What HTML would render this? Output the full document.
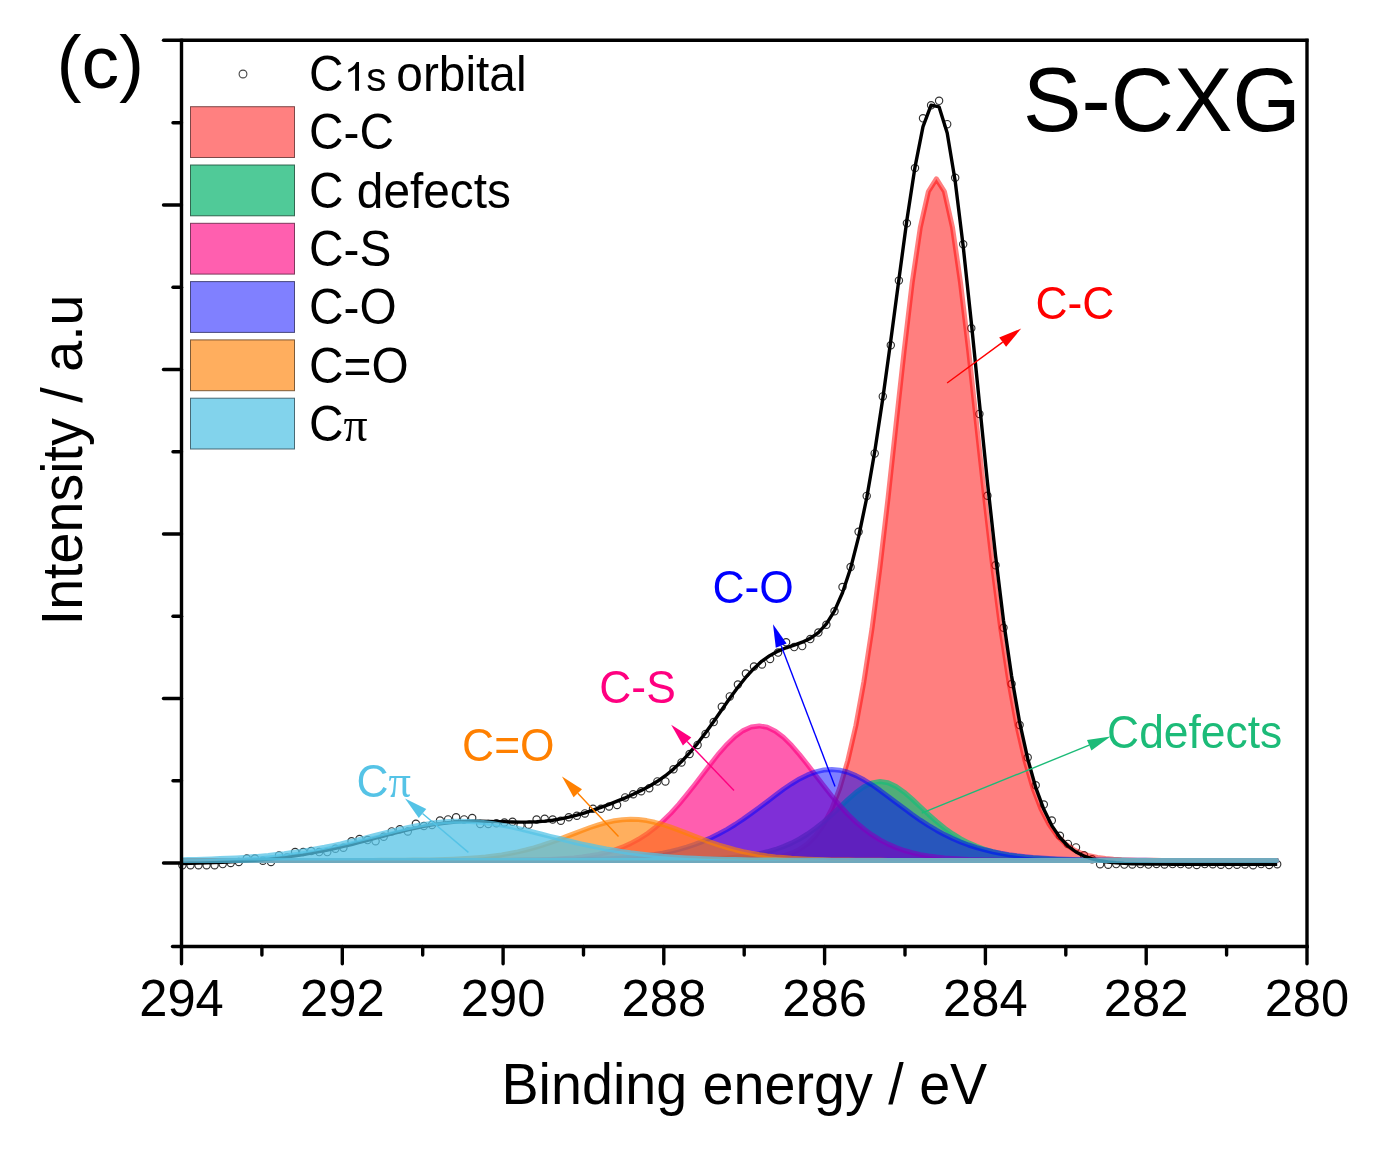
<!DOCTYPE html><html><head><meta charset="utf-8"><style>html,body{margin:0;padding:0;background:#fff;overflow:hidden}svg{display:block;will-change:transform}</style></head><body>
<svg width="1377" height="1152" viewBox="0 0 1377 1152">
<rect width="1377" height="1152" fill="#fff"/>
<g fill="none" stroke="rgb(50,50,50)" stroke-width="1.15"><circle cx="182.4" cy="865.2" r="3.65"/><circle cx="190.5" cy="865.2" r="3.65"/><circle cx="198.5" cy="865.2" r="3.65"/><circle cx="206.6" cy="865.2" r="3.65"/><circle cx="214.6" cy="865.2" r="3.65"/><circle cx="222.7" cy="864.1" r="3.65"/><circle cx="230.7" cy="863.0" r="3.65"/><circle cx="238.8" cy="861.9" r="3.65"/><circle cx="246.8" cy="858.6" r="3.65"/><circle cx="254.9" cy="858.6" r="3.65"/><circle cx="262.9" cy="860.8" r="3.65"/><circle cx="271.0" cy="861.9" r="3.65"/><circle cx="279.0" cy="855.4" r="3.65"/><circle cx="287.1" cy="857.4" r="3.65"/><circle cx="295.1" cy="852.1" r="3.65"/><circle cx="303.2" cy="852.1" r="3.65"/><circle cx="311.2" cy="851.0" r="3.65"/><circle cx="319.2" cy="852.1" r="3.65"/><circle cx="327.3" cy="852.1" r="3.65"/><circle cx="335.4" cy="848.8" r="3.65"/><circle cx="343.4" cy="847.7" r="3.65"/><circle cx="351.5" cy="841.2" r="3.65"/><circle cx="359.5" cy="839.0" r="3.65"/><circle cx="367.6" cy="840.1" r="3.65"/><circle cx="375.6" cy="841.2" r="3.65"/><circle cx="383.7" cy="836.8" r="3.65"/><circle cx="391.7" cy="831.4" r="3.65"/><circle cx="399.8" cy="829.2" r="3.65"/><circle cx="407.8" cy="831.4" r="3.65"/><circle cx="415.9" cy="823.8" r="3.65"/><circle cx="423.9" cy="826.0" r="3.65"/><circle cx="432.0" cy="824.9" r="3.65"/><circle cx="440.0" cy="820.5" r="3.65"/><circle cx="448.1" cy="819.4" r="3.65"/><circle cx="456.1" cy="817.2" r="3.65"/><circle cx="464.1" cy="819.4" r="3.65"/><circle cx="472.2" cy="818.0" r="3.65"/><circle cx="480.2" cy="824.0" r="3.65"/><circle cx="488.3" cy="824.0" r="3.65"/><circle cx="496.4" cy="823.3" r="3.65"/><circle cx="504.4" cy="822.5" r="3.65"/><circle cx="512.5" cy="821.8" r="3.65"/><circle cx="520.5" cy="825.6" r="3.65"/><circle cx="528.6" cy="824.8" r="3.65"/><circle cx="536.6" cy="819.5" r="3.65"/><circle cx="544.7" cy="818.7" r="3.65"/><circle cx="552.7" cy="819.5" r="3.65"/><circle cx="560.8" cy="820.7" r="3.65"/><circle cx="568.8" cy="817.2" r="3.65"/><circle cx="576.9" cy="815.7" r="3.65"/><circle cx="584.9" cy="813.4" r="3.65"/><circle cx="593.0" cy="808.8" r="3.65"/><circle cx="601.0" cy="808.8" r="3.65"/><circle cx="609.1" cy="806.5" r="3.65"/><circle cx="617.1" cy="805.0" r="3.65"/><circle cx="625.2" cy="797.4" r="3.65"/><circle cx="633.2" cy="794.3" r="3.65"/><circle cx="641.2" cy="791.3" r="3.65"/><circle cx="649.3" cy="788.2" r="3.65"/><circle cx="657.4" cy="781.4" r="3.65"/><circle cx="665.4" cy="781.4" r="3.65"/><circle cx="673.5" cy="769.3" r="3.65"/><circle cx="681.5" cy="762.4" r="3.65"/><circle cx="689.6" cy="754.0" r="3.65"/><circle cx="697.6" cy="745.0" r="3.65"/><circle cx="705.6" cy="733.9" r="3.65"/><circle cx="713.7" cy="722.1" r="3.65"/><circle cx="721.8" cy="706.8" r="3.65"/><circle cx="729.8" cy="696.4" r="3.65"/><circle cx="737.9" cy="684.6" r="3.65"/><circle cx="745.9" cy="673.5" r="3.65"/><circle cx="754.0" cy="666.5" r="3.65"/><circle cx="762.0" cy="664.4" r="3.65"/><circle cx="770.1" cy="658.9" r="3.65"/><circle cx="778.1" cy="652.6" r="3.65"/><circle cx="786.1" cy="642.2" r="3.65"/><circle cx="794.2" cy="647.1" r="3.65"/><circle cx="802.2" cy="646.1" r="3.65"/><circle cx="810.3" cy="639.1" r="3.65"/><circle cx="818.4" cy="632.6" r="3.65"/><circle cx="826.4" cy="624.8" r="3.65"/><circle cx="834.5" cy="611.3" r="3.65"/><circle cx="842.5" cy="587.0" r="3.65"/><circle cx="850.6" cy="567.0" r="3.65"/><circle cx="858.6" cy="531.8" r="3.65"/><circle cx="866.7" cy="495.9" r="3.65"/><circle cx="874.7" cy="453.4" r="3.65"/><circle cx="882.8" cy="396.4" r="3.65"/><circle cx="890.8" cy="345.2" r="3.65"/><circle cx="898.9" cy="280.6" r="3.65"/><circle cx="906.9" cy="223.3" r="3.65"/><circle cx="915.0" cy="168.1" r="3.65"/><circle cx="923.0" cy="118.3" r="3.65"/><circle cx="931.1" cy="105.3" r="3.65"/><circle cx="939.1" cy="100.8" r="3.65"/><circle cx="947.2" cy="124.2" r="3.65"/><circle cx="955.2" cy="177.8" r="3.65"/><circle cx="963.2" cy="244.3" r="3.65"/><circle cx="971.3" cy="328.3" r="3.65"/><circle cx="979.4" cy="413.9" r="3.65"/><circle cx="987.4" cy="495.8" r="3.65"/><circle cx="995.5" cy="565.3" r="3.65"/><circle cx="1003.5" cy="627.7" r="3.65"/><circle cx="1011.6" cy="684.0" r="3.65"/><circle cx="1019.6" cy="725.0" r="3.65"/><circle cx="1027.7" cy="757.6" r="3.65"/><circle cx="1035.7" cy="785.3" r="3.65"/><circle cx="1043.8" cy="804.5" r="3.65"/><circle cx="1051.8" cy="820.5" r="3.65"/><circle cx="1059.9" cy="835.7" r="3.65"/><circle cx="1067.9" cy="843.9" r="3.65"/><circle cx="1076.0" cy="847.4" r="3.65"/><circle cx="1084.0" cy="855.2" r="3.65"/><circle cx="1092.1" cy="859.2" r="3.65"/><circle cx="1100.1" cy="864.2" r="3.65"/><circle cx="1108.2" cy="864.8" r="3.65"/><circle cx="1116.2" cy="864.1" r="3.65"/><circle cx="1124.3" cy="864.6" r="3.65"/><circle cx="1132.3" cy="864.4" r="3.65"/><circle cx="1140.4" cy="864.1" r="3.65"/><circle cx="1148.4" cy="864.6" r="3.65"/><circle cx="1156.5" cy="864.0" r="3.65"/><circle cx="1164.5" cy="864.5" r="3.65"/><circle cx="1172.6" cy="864.1" r="3.65"/><circle cx="1180.6" cy="864.1" r="3.65"/><circle cx="1188.7" cy="864.5" r="3.65"/><circle cx="1196.7" cy="865.0" r="3.65"/><circle cx="1204.8" cy="864.1" r="3.65"/><circle cx="1212.8" cy="864.3" r="3.65"/><circle cx="1220.9" cy="864.8" r="3.65"/><circle cx="1228.9" cy="865.1" r="3.65"/><circle cx="1237.0" cy="864.7" r="3.65"/><circle cx="1245.0" cy="864.5" r="3.65"/><circle cx="1253.1" cy="865.2" r="3.65"/><circle cx="1261.1" cy="864.1" r="3.65"/><circle cx="1269.2" cy="865.0" r="3.65"/><circle cx="1277.2" cy="864.3" r="3.65"/></g>
<path d="M183.0,860.4 L183.0,860.4 L187.7,860.4 L195.8,860.4 L203.8,860.4 L211.9,860.4 L219.9,860.4 L228.0,860.4 L236.0,860.4 L244.1,860.4 L252.1,860.4 L260.2,860.4 L268.2,860.4 L276.3,860.4 L284.3,860.4 L292.4,860.4 L300.4,860.4 L308.5,860.4 L316.5,860.4 L324.6,860.4 L332.6,860.4 L340.7,860.4 L348.7,860.4 L356.8,860.4 L364.8,860.4 L372.9,860.4 L380.9,860.4 L389.0,860.4 L397.0,860.4 L405.1,860.4 L413.1,860.4 L421.2,860.4 L429.2,860.4 L437.3,860.4 L445.3,860.4 L453.4,860.4 L461.4,860.4 L469.5,860.4 L477.5,860.4 L485.6,860.4 L493.6,860.4 L501.7,860.4 L509.7,860.4 L517.8,860.4 L525.8,860.4 L533.9,860.4 L541.9,860.4 L550.0,860.4 L558.0,860.4 L566.1,860.4 L574.1,860.4 L582.2,860.4 L590.2,860.4 L598.3,860.4 L606.3,860.4 L614.4,860.4 L622.4,860.4 L630.5,860.4 L638.5,860.4 L646.6,860.4 L654.6,860.4 L662.7,860.4 L670.8,860.4 L678.8,860.4 L686.8,860.4 L694.9,860.4 L702.9,860.4 L711.0,860.4 L719.0,860.3 L727.1,860.3 L735.1,860.2 L743.2,860.0 L751.2,859.8 L759.3,859.3 L767.3,858.6 L775.4,857.5 L783.4,855.8 L791.5,853.2 L799.5,849.4 L807.6,843.8 L815.6,835.7 L823.7,824.4 L831.8,808.9 L839.8,788.0 L847.8,760.6 L855.9,725.5 L863.9,681.7 L872.0,628.7 L880.0,566.9 L888.1,497.6 L896.1,423.9 L904.2,350.2 L912.2,282.6 L920.3,227.5 L928.4,191.5 L936.4,178.9 L944.4,191.5 L952.5,227.5 L960.5,282.6 L968.6,350.2 L976.6,423.9 L984.7,497.6 L992.8,566.9 L1000.8,628.7 L1008.9,681.7 L1016.9,725.5 L1025.0,760.6 L1033.0,788.0 L1041.0,808.9 L1049.1,824.4 L1057.2,835.7 L1065.2,843.8 L1073.2,849.4 L1081.3,853.2 L1089.3,855.8 L1097.4,857.5 L1105.5,858.6 L1113.5,859.3 L1121.5,859.8 L1129.6,860.0 L1137.7,860.2 L1145.7,860.3 L1153.8,860.3 L1161.8,860.4 L1169.8,860.4 L1177.9,860.4 L1186.0,860.4 L1194.0,860.4 L1202.0,860.4 L1210.1,860.4 L1218.2,860.4 L1226.2,860.4 L1234.2,860.4 L1242.3,860.4 L1250.3,860.4 L1258.4,860.4 L1266.5,860.4 L1276.5,860.4 L1276.5,860.4 Z" fill="rgb(255,0,0)" fill-opacity="0.5" stroke="rgb(255,0,0)" stroke-opacity="0.5" stroke-width="5" stroke-linejoin="round"/>
<path d="M183.0,860.4 L183.0,860.4 L187.7,860.4 L195.8,860.4 L203.8,860.4 L211.9,860.4 L219.9,860.4 L228.0,860.4 L236.0,860.4 L244.1,860.4 L252.1,860.4 L260.2,860.4 L268.2,860.4 L276.3,860.4 L284.3,860.4 L292.4,860.4 L300.4,860.4 L308.5,860.4 L316.5,860.4 L324.6,860.4 L332.6,860.4 L340.7,860.4 L348.7,860.4 L356.8,860.4 L364.8,860.4 L372.9,860.4 L380.9,860.4 L389.0,860.4 L397.0,860.4 L405.1,860.4 L413.1,860.4 L421.2,860.4 L429.2,860.4 L437.3,860.4 L445.3,860.4 L453.4,860.4 L461.4,860.4 L469.5,860.4 L477.5,860.4 L485.6,860.4 L493.6,860.4 L501.7,860.4 L509.7,860.4 L517.8,860.4 L525.8,860.4 L533.9,860.4 L541.9,860.4 L550.0,860.4 L558.0,860.4 L566.1,860.4 L574.1,860.4 L582.2,860.4 L590.2,860.4 L598.3,860.4 L606.3,860.4 L614.4,860.4 L622.4,860.4 L630.5,860.4 L638.5,860.3 L646.6,860.3 L654.6,860.3 L662.7,860.2 L670.8,860.1 L678.8,860.0 L686.8,859.9 L694.9,859.7 L702.9,859.4 L711.0,859.1 L719.0,858.6 L727.1,858.1 L735.1,857.3 L743.2,856.4 L751.2,855.2 L759.3,853.7 L767.3,851.8 L775.4,849.5 L783.4,846.6 L791.5,843.1 L799.5,839.0 L807.6,834.0 L815.6,828.3 L823.7,821.9 L831.8,814.7 L839.8,807.2 L847.8,799.6 L855.9,792.6 L863.9,786.8 L872.0,782.9 L880.0,781.5 L888.1,782.7 L896.1,786.5 L904.2,792.2 L912.2,799.1 L920.3,806.7 L928.4,814.3 L936.4,821.4 L944.4,828.0 L952.5,833.7 L960.5,838.7 L968.6,842.9 L976.6,846.4 L984.7,849.3 L992.8,851.7 L1000.8,853.6 L1008.9,855.1 L1016.9,856.3 L1025.0,857.3 L1033.0,858.0 L1041.0,858.6 L1049.1,859.1 L1057.2,859.4 L1065.2,859.7 L1073.2,859.9 L1081.3,860.0 L1089.3,860.1 L1097.4,860.2 L1105.5,860.3 L1113.5,860.3 L1121.5,860.3 L1129.6,860.4 L1137.7,860.4 L1145.7,860.4 L1153.8,860.4 L1161.8,860.4 L1169.8,860.4 L1177.9,860.4 L1186.0,860.4 L1194.0,860.4 L1202.0,860.4 L1210.1,860.4 L1218.2,860.4 L1226.2,860.4 L1234.2,860.4 L1242.3,860.4 L1250.3,860.4 L1258.4,860.4 L1266.5,860.4 L1276.5,860.4 L1276.5,860.4 Z" fill="rgb(28,187,120)" fill-opacity="0.77" stroke="rgb(28,187,120)" stroke-opacity="0.77" stroke-width="5" stroke-linejoin="round"/>
<path d="M183.0,860.4 L183.0,860.4 L187.7,860.4 L195.8,860.4 L203.8,860.4 L211.9,860.4 L219.9,860.4 L228.0,860.4 L236.0,860.4 L244.1,860.4 L252.1,860.4 L260.2,860.4 L268.2,860.4 L276.3,860.4 L284.3,860.4 L292.4,860.4 L300.4,860.4 L308.5,860.4 L316.5,860.4 L324.6,860.4 L332.6,860.4 L340.7,860.4 L348.7,860.4 L356.8,860.4 L364.8,860.4 L372.9,860.4 L380.9,860.4 L389.0,860.4 L397.0,860.4 L405.1,860.4 L413.1,860.4 L421.2,860.4 L429.2,860.4 L437.3,860.4 L445.3,860.4 L453.4,860.4 L461.4,860.4 L469.5,860.4 L477.5,860.4 L485.6,860.4 L493.6,860.3 L501.7,860.3 L509.7,860.2 L517.8,860.2 L525.8,860.1 L533.9,859.9 L541.9,859.7 L550.0,859.4 L558.0,859.0 L566.1,858.5 L574.1,857.9 L582.2,857.0 L590.2,855.8 L598.3,854.4 L606.3,852.5 L614.4,850.1 L622.4,847.2 L630.5,843.6 L638.5,839.3 L646.6,834.2 L654.6,828.1 L662.7,821.1 L670.8,813.2 L678.8,804.4 L686.8,794.7 L694.9,784.5 L702.9,774.0 L711.0,763.4 L719.0,753.3 L727.1,744.2 L735.1,736.5 L743.2,730.6 L751.2,727.0 L759.3,725.9 L767.3,727.3 L775.4,731.2 L783.4,737.3 L791.5,745.3 L799.5,754.6 L807.6,764.7 L815.6,775.3 L823.7,785.8 L831.8,796.0 L839.8,805.5 L847.8,814.2 L855.9,822.1 L863.9,828.9 L872.0,834.9 L880.0,839.9 L888.1,844.1 L896.1,847.6 L904.2,850.5 L912.2,852.7 L920.3,854.6 L928.4,856.0 L936.4,857.1 L944.4,858.0 L952.5,858.6 L960.5,859.1 L968.6,859.5 L976.6,859.7 L984.7,859.9 L992.8,860.1 L1000.8,860.2 L1008.9,860.2 L1016.9,860.3 L1025.0,860.3 L1033.0,860.4 L1041.0,860.4 L1049.1,860.4 L1057.2,860.4 L1065.2,860.4 L1073.2,860.4 L1081.3,860.4 L1089.3,860.4 L1097.4,860.4 L1105.5,860.4 L1113.5,860.4 L1121.5,860.4 L1129.6,860.4 L1137.7,860.4 L1145.7,860.4 L1153.8,860.4 L1161.8,860.4 L1169.8,860.4 L1177.9,860.4 L1186.0,860.4 L1194.0,860.4 L1202.0,860.4 L1210.1,860.4 L1218.2,860.4 L1226.2,860.4 L1234.2,860.4 L1242.3,860.4 L1250.3,860.4 L1258.4,860.4 L1266.5,860.4 L1276.5,860.4 L1276.5,860.4 Z" fill="rgb(255,0,128)" fill-opacity="0.63" stroke="rgb(255,0,128)" stroke-opacity="0.63" stroke-width="5" stroke-linejoin="round"/>
<path d="M183.0,860.4 L183.0,860.4 L187.7,860.4 L195.8,860.4 L203.8,860.4 L211.9,860.4 L219.9,860.4 L228.0,860.4 L236.0,860.4 L244.1,860.4 L252.1,860.4 L260.2,860.4 L268.2,860.4 L276.3,860.4 L284.3,860.4 L292.4,860.4 L300.4,860.4 L308.5,860.4 L316.5,860.4 L324.6,860.4 L332.6,860.4 L340.7,860.4 L348.7,860.4 L356.8,860.4 L364.8,860.4 L372.9,860.4 L380.9,860.4 L389.0,860.4 L397.0,860.4 L405.1,860.4 L413.1,860.4 L421.2,860.4 L429.2,860.4 L437.3,860.4 L445.3,860.4 L453.4,860.4 L461.4,860.4 L469.5,860.4 L477.5,860.4 L485.6,860.4 L493.6,860.4 L501.7,860.4 L509.7,860.4 L517.8,860.3 L525.8,860.3 L533.9,860.3 L541.9,860.2 L550.0,860.2 L558.0,860.1 L566.1,860.0 L574.1,859.9 L582.2,859.7 L590.2,859.5 L598.3,859.3 L606.3,858.9 L614.4,858.5 L622.4,858.0 L630.5,857.4 L638.5,856.6 L646.6,855.6 L654.6,854.5 L662.7,853.1 L670.8,851.4 L678.8,849.4 L686.8,847.1 L694.9,844.4 L702.9,841.3 L711.0,837.8 L719.0,833.8 L727.1,829.4 L735.1,824.5 L743.2,819.1 L751.2,813.4 L759.3,807.5 L767.3,801.4 L775.4,795.3 L783.4,789.3 L791.5,783.8 L799.5,778.9 L807.6,774.9 L815.6,771.9 L823.7,770.0 L831.8,769.5 L839.8,770.3 L847.8,772.3 L855.9,775.6 L863.9,779.8 L872.0,784.8 L880.0,790.4 L888.1,796.4 L896.1,802.5 L904.2,808.6 L912.2,814.5 L920.3,820.2 L928.4,825.4 L936.4,830.2 L944.4,834.6 L952.5,838.5 L960.5,842.0 L968.6,845.0 L976.6,847.6 L984.7,849.8 L992.8,851.7 L1000.8,853.3 L1008.9,854.7 L1016.9,855.8 L1025.0,856.7 L1033.0,857.5 L1041.0,858.1 L1049.1,858.6 L1057.2,859.0 L1065.2,859.3 L1073.2,859.6 L1081.3,859.8 L1089.3,859.9 L1097.4,860.0 L1105.5,860.1 L1113.5,860.2 L1121.5,860.2 L1129.6,860.3 L1137.7,860.3 L1145.7,860.3 L1153.8,860.4 L1161.8,860.4 L1169.8,860.4 L1177.9,860.4 L1186.0,860.4 L1194.0,860.4 L1202.0,860.4 L1210.1,860.4 L1218.2,860.4 L1226.2,860.4 L1234.2,860.4 L1242.3,860.4 L1250.3,860.4 L1258.4,860.4 L1266.5,860.4 L1276.5,860.4 L1276.5,860.4 Z" fill="rgb(0,0,255)" fill-opacity="0.5" stroke="rgb(0,0,255)" stroke-opacity="0.5" stroke-width="5" stroke-linejoin="round"/>
<path d="M183.0,860.4 L183.0,860.4 L187.7,860.4 L195.8,860.4 L203.8,860.4 L211.9,860.4 L219.9,860.4 L228.0,860.4 L236.0,860.4 L244.1,860.4 L252.1,860.4 L260.2,860.4 L268.2,860.4 L276.3,860.4 L284.3,860.4 L292.4,860.4 L300.4,860.4 L308.5,860.4 L316.5,860.4 L324.6,860.4 L332.6,860.4 L340.7,860.4 L348.7,860.4 L356.8,860.4 L364.8,860.4 L372.9,860.4 L380.9,860.3 L389.0,860.3 L397.0,860.3 L405.1,860.2 L413.1,860.1 L421.2,860.1 L429.2,859.9 L437.3,859.7 L445.3,859.5 L453.4,859.2 L461.4,858.8 L469.5,858.3 L477.5,857.7 L485.6,857.0 L493.6,856.0 L501.7,854.9 L509.7,853.5 L517.8,851.9 L525.8,850.0 L533.9,847.8 L541.9,845.4 L550.0,842.7 L558.0,839.8 L566.1,836.7 L574.1,833.6 L582.2,830.5 L590.2,827.5 L598.3,824.8 L606.3,822.6 L614.4,820.8 L622.4,819.7 L630.5,819.3 L638.5,819.6 L646.6,820.6 L654.6,822.3 L662.7,824.5 L670.8,827.2 L678.8,830.1 L686.8,833.2 L694.9,836.4 L702.9,839.4 L711.0,842.4 L719.0,845.1 L727.1,847.5 L735.1,849.7 L743.2,851.7 L751.2,853.3 L759.3,854.7 L767.3,855.9 L775.4,856.9 L783.4,857.6 L791.5,858.3 L799.5,858.8 L807.6,859.2 L815.6,859.5 L823.7,859.7 L831.8,859.9 L839.8,860.0 L847.8,860.1 L855.9,860.2 L863.9,860.3 L872.0,860.3 L880.0,860.3 L888.1,860.4 L896.1,860.4 L904.2,860.4 L912.2,860.4 L920.3,860.4 L928.4,860.4 L936.4,860.4 L944.4,860.4 L952.5,860.4 L960.5,860.4 L968.6,860.4 L976.6,860.4 L984.7,860.4 L992.8,860.4 L1000.8,860.4 L1008.9,860.4 L1016.9,860.4 L1025.0,860.4 L1033.0,860.4 L1041.0,860.4 L1049.1,860.4 L1057.2,860.4 L1065.2,860.4 L1073.2,860.4 L1081.3,860.4 L1089.3,860.4 L1097.4,860.4 L1105.5,860.4 L1113.5,860.4 L1121.5,860.4 L1129.6,860.4 L1137.7,860.4 L1145.7,860.4 L1153.8,860.4 L1161.8,860.4 L1169.8,860.4 L1177.9,860.4 L1186.0,860.4 L1194.0,860.4 L1202.0,860.4 L1210.1,860.4 L1218.2,860.4 L1226.2,860.4 L1234.2,860.4 L1242.3,860.4 L1250.3,860.4 L1258.4,860.4 L1266.5,860.4 L1276.5,860.4 L1276.5,860.4 Z" fill="rgb(255,128,0)" fill-opacity="0.63" stroke="rgb(255,128,0)" stroke-opacity="0.63" stroke-width="5" stroke-linejoin="round"/>
<polyline points="182.4,863.5 190.5,863.3 198.5,863.1 206.6,862.9 214.6,862.6 222.7,862.3 230.7,861.9 238.8,861.4 246.8,860.9 254.9,860.3 262.9,859.6 271.0,858.8 279.0,857.9 287.1,856.9 295.1,855.8 303.2,854.6 311.2,853.2 319.2,851.7 327.3,850.0 335.4,848.3 343.4,846.4 351.5,844.5 359.5,842.4 367.6,840.3 375.6,838.1 383.7,836.0 391.7,833.9 399.8,831.8 407.8,829.8 415.9,828.0 423.9,826.4 432.0,824.9 440.0,823.7 448.1,822.7 456.1,822.0 464.1,821.6 472.2,821.3 480.2,821.3 488.3,821.4 496.4,821.6 504.4,821.8 512.5,822.0 520.5,822.1 528.6,822.0 536.6,821.7 544.7,821.1 552.7,820.2 560.8,818.9 568.8,817.2 576.9,815.2 584.9,812.8 593.0,810.2 601.0,807.4 609.1,804.4 617.1,801.2 625.2,797.9 633.2,794.3 641.2,790.4 649.3,786.2 657.4,781.3 665.4,775.7 673.5,769.1 681.5,761.6 689.6,752.9 697.6,743.3 705.6,732.7 713.7,721.4 721.8,709.8 729.8,698.3 737.9,687.3 745.9,677.2 754.0,668.4 762.0,661.1 770.1,655.4 778.1,651.1 786.1,647.8 794.2,645.1 802.2,642.2 810.3,638.4 818.4,632.6 826.4,623.8 834.5,610.9 842.5,592.7 850.6,568.3 858.6,536.9 866.7,498.0 874.7,451.7 882.8,398.6 890.8,340.4 898.9,279.5 906.9,220.1 915.0,167.1 923.0,126.7 931.1,105.1 939.1,106.9 947.2,133.0 955.2,181.2 963.2,246.4 971.3,322.3 979.4,402.7 987.4,481.8 995.5,555.3 1003.5,620.5 1011.6,676.1 1019.6,722.0 1027.7,758.7 1035.7,787.4 1043.8,809.3 1051.8,825.6 1059.9,837.5 1067.9,846.0 1076.0,852.0 1084.0,856.1 1092.1,858.9 1100.1,860.8 1108.2,862.0 1116.2,862.8 1124.3,863.4 1132.3,863.7 1140.4,863.9 1148.4,864.0 1156.5,864.1 1164.5,864.1 1172.6,864.2 1180.6,864.2 1188.7,864.2 1196.7,864.2 1204.8,864.2 1212.8,864.2 1220.9,864.2 1228.9,864.2 1237.0,864.2 1245.0,864.2 1253.1,864.2 1261.1,864.2 1269.2,864.2 1277.2,864.2" fill="none" stroke="#000" stroke-width="3.4" stroke-linejoin="round"/>
<path d="M183.0,860.4 L183.0,859.7 L187.7,859.6 L195.8,859.4 L203.8,859.2 L211.9,858.9 L219.9,858.6 L228.0,858.3 L236.0,857.9 L244.1,857.4 L252.1,856.8 L260.2,856.2 L268.2,855.5 L276.3,854.6 L284.3,853.7 L292.4,852.6 L300.4,851.5 L308.5,850.2 L316.5,848.8 L324.6,847.3 L332.6,845.6 L340.7,843.9 L348.7,842.0 L356.8,840.1 L364.8,838.1 L372.9,836.0 L380.9,834.0 L389.0,832.0 L397.0,830.0 L405.1,828.2 L413.1,826.5 L421.2,824.9 L429.2,823.6 L437.3,822.6 L445.3,821.8 L453.4,821.3 L461.4,821.2 L469.5,821.4 L477.5,821.9 L485.6,822.7 L493.6,823.8 L501.7,825.1 L509.7,826.6 L517.8,828.4 L525.8,830.2 L533.9,832.2 L541.9,834.2 L550.0,836.3 L558.0,838.3 L566.1,840.3 L574.1,842.2 L582.2,844.1 L590.2,845.8 L598.3,847.4 L606.3,849.0 L614.4,850.3 L622.4,851.6 L630.5,852.8 L638.5,853.8 L646.6,854.7 L654.6,855.5 L662.7,856.3 L670.8,856.9 L678.8,857.4 L686.8,857.9 L694.9,858.3 L702.9,858.7 L711.0,859.0 L719.0,859.2 L727.1,859.4 L735.1,859.6 L743.2,859.8 L751.2,859.9 L759.3,860.0 L767.3,860.1 L775.4,860.1 L783.4,860.2 L791.5,860.2 L799.5,860.3 L807.6,860.3 L815.6,860.3 L823.7,860.3 L831.8,860.4 L839.8,860.4 L847.8,860.4 L855.9,860.4 L863.9,860.4 L872.0,860.4 L880.0,860.4 L888.1,860.4 L896.1,860.4 L904.2,860.4 L912.2,860.4 L920.3,860.4 L928.4,860.4 L936.4,860.4 L944.4,860.4 L952.5,860.4 L960.5,860.4 L968.6,860.4 L976.6,860.4 L984.7,860.4 L992.8,860.4 L1000.8,860.4 L1008.9,860.4 L1016.9,860.4 L1025.0,860.4 L1033.0,860.4 L1041.0,860.4 L1049.1,860.4 L1057.2,860.4 L1065.2,860.4 L1073.2,860.4 L1081.3,860.4 L1089.3,860.4 L1097.4,860.4 L1105.5,860.4 L1113.5,860.4 L1121.5,860.4 L1129.6,860.4 L1137.7,860.4 L1145.7,860.4 L1153.8,860.4 L1161.8,860.4 L1169.8,860.4 L1177.9,860.4 L1186.0,860.4 L1194.0,860.4 L1202.0,860.4 L1210.1,860.4 L1218.2,860.4 L1226.2,860.4 L1234.2,860.4 L1242.3,860.4 L1250.3,860.4 L1258.4,860.4 L1266.5,860.4 L1276.5,860.4 L1276.5,860.4 Z" fill="rgb(85,195,230)" fill-opacity="0.75" stroke="rgb(85,195,230)" stroke-opacity="0.75" stroke-width="5" stroke-linejoin="round"/>
<g stroke="#000" stroke-width="3.4" fill="none">
<line x1="181.5" y1="38.7" x2="181.5" y2="948"/>
<line x1="1307" y1="38.7" x2="1307" y2="948"/>
<line x1="181.5" y1="40.2" x2="1308.5" y2="40.2"/>
<line x1="181.5" y1="946.5" x2="1308.5" y2="946.5"/>
</g>
<g stroke="#000" stroke-width="3.4" stroke-linecap="round" fill="none">
<line x1="163.5" y1="40.2" x2="181.5" y2="40.2"/>
<line x1="172.5" y1="946.5" x2="181.5" y2="946.5"/>
<line x1="173" y1="122.8" x2="181.5" y2="122.8"/>
<line x1="163.5" y1="205.0" x2="181.5" y2="205.0"/>
<line x1="173" y1="287.2" x2="181.5" y2="287.2"/>
<line x1="163.5" y1="369.5" x2="181.5" y2="369.5"/>
<line x1="173" y1="451.8" x2="181.5" y2="451.8"/>
<line x1="163.5" y1="534.0" x2="181.5" y2="534.0"/>
<line x1="173" y1="616.2" x2="181.5" y2="616.2"/>
<line x1="163.5" y1="698.5" x2="181.5" y2="698.5"/>
<line x1="173" y1="780.8" x2="181.5" y2="780.8"/>
<line x1="163.5" y1="863.0" x2="181.5" y2="863.0"/>
<line x1="181.5" y1="946.5" x2="181.5" y2="963.8"/>
<line x1="261.9" y1="946.5" x2="261.9" y2="955.1"/>
<line x1="342.3" y1="946.5" x2="342.3" y2="963.8"/>
<line x1="422.7" y1="946.5" x2="422.7" y2="955.1"/>
<line x1="503.1" y1="946.5" x2="503.1" y2="963.8"/>
<line x1="583.5" y1="946.5" x2="583.5" y2="955.1"/>
<line x1="663.8" y1="946.5" x2="663.8" y2="963.8"/>
<line x1="744.2" y1="946.5" x2="744.2" y2="955.1"/>
<line x1="824.6" y1="946.5" x2="824.6" y2="963.8"/>
<line x1="905.0" y1="946.5" x2="905.0" y2="955.1"/>
<line x1="985.4" y1="946.5" x2="985.4" y2="963.8"/>
<line x1="1065.8" y1="946.5" x2="1065.8" y2="955.1"/>
<line x1="1146.2" y1="946.5" x2="1146.2" y2="963.8"/>
<line x1="1226.6" y1="946.5" x2="1226.6" y2="955.1"/>
<line x1="1307.0" y1="946.5" x2="1307.0" y2="963.8"/>
</g>
<text transform="translate(181.5,1016.3) scale(0.976,1)" font-family="Liberation Sans" font-size="52" fill="#000" text-anchor="middle">294</text>
<text transform="translate(342.28,1016.3) scale(0.976,1)" font-family="Liberation Sans" font-size="52" fill="#000" text-anchor="middle">292</text>
<text transform="translate(503.06,1016.3) scale(0.976,1)" font-family="Liberation Sans" font-size="52" fill="#000" text-anchor="middle">290</text>
<text transform="translate(663.84,1016.3) scale(0.976,1)" font-family="Liberation Sans" font-size="52" fill="#000" text-anchor="middle">288</text>
<text transform="translate(824.62,1016.3) scale(0.976,1)" font-family="Liberation Sans" font-size="52" fill="#000" text-anchor="middle">286</text>
<text transform="translate(985.4,1016.3) scale(0.976,1)" font-family="Liberation Sans" font-size="52" fill="#000" text-anchor="middle">284</text>
<text transform="translate(1146.18,1016.3) scale(0.976,1)" font-family="Liberation Sans" font-size="52" fill="#000" text-anchor="middle">282</text>
<text transform="translate(1306.96,1016.3) scale(0.976,1)" font-family="Liberation Sans" font-size="52" fill="#000" text-anchor="middle">280</text>
<text transform="translate(501.5,1103.9) scale(0.968,1)" font-family="Liberation Sans" font-size="57.5" fill="#000" >Binding energy / eV</text>
<text transform="translate(81.6,625.3) rotate(-90) scale(0.976,1)" font-family="Liberation Sans" font-size="57" fill="#000">Intensity / a.u</text>
<text transform="translate(56.4,88.3) scale(1.02,1)" font-family="Liberation Sans" font-size="73.8" fill="#000" >(c)</text>
<text transform="translate(1023,131.1) scale(0.974,1)" font-family="Liberation Sans" font-size="90" fill="#000" >S-CXG</text>
<circle cx="243" cy="74" r="3.9" fill="none" stroke="#444" stroke-width="1.1"/>
<text transform="translate(309,91.2) scale(0.972,1)" font-family="Liberation Sans" font-size="49.2" fill="#000" >C</text>
<path d="M355.1,90.7 L359,90.7 L359,62 L356.5,62 C355.5,64 353.5,66.5 351,68 L348.2,69.6 L348.2,72.6 L351.5,71 C353,70.2 354.3,69.3 355.1,68.5 Z" fill="#000"/>
<text transform="translate(366.2,91.2) scale(0.972,1)" font-family="Liberation Sans" font-size="41.5" fill="#000" >s</text>
<text transform="translate(396.3,91.2) scale(0.972,1)" font-family="Liberation Sans" font-size="49.2" fill="#000" >orbital</text>
<rect x="190.5" y="106.7" width="104" height="50.8" fill="rgb(255,128,128)" stroke="rgb(102,51,51)" stroke-opacity="0.85" stroke-width="1"/>
<text transform="translate(309,149.3) scale(0.972,1)" font-family="Liberation Sans" font-size="49.2" fill="#000" >C-C</text>
<rect x="190.5" y="165.0" width="104" height="50.8" fill="rgb(80,202,152)" stroke="rgb(32,80,60)" stroke-opacity="0.85" stroke-width="1"/>
<text transform="translate(309,207.60000000000002) scale(0.972,1)" font-family="Liberation Sans" font-size="49.2" fill="#000" >C defects</text>
<rect x="190.5" y="223.3" width="104" height="50.8" fill="rgb(255,95,175)" stroke="rgb(102,38,70)" stroke-opacity="0.85" stroke-width="1"/>
<text transform="translate(309,265.9) scale(0.972,1)" font-family="Liberation Sans" font-size="49.2" fill="#000" >C-S</text>
<rect x="190.5" y="281.6" width="104" height="50.8" fill="rgb(128,128,255)" stroke="rgb(51,51,102)" stroke-opacity="0.85" stroke-width="1"/>
<text transform="translate(309,324.2) scale(0.972,1)" font-family="Liberation Sans" font-size="49.2" fill="#000" >C-O</text>
<rect x="190.5" y="339.9" width="104" height="50.8" fill="rgb(255,174,94)" stroke="rgb(102,69,37)" stroke-opacity="0.85" stroke-width="1"/>
<text transform="translate(309,382.5) scale(0.972,1)" font-family="Liberation Sans" font-size="49.2" fill="#000" >C=O</text>
<rect x="190.5" y="398.2" width="104" height="50.8" fill="rgb(130,211,236)" stroke="rgb(52,84,94)" stroke-opacity="0.85" stroke-width="1"/>
<text transform="translate(309,440.8) scale(0.972,1)" font-family="Liberation Sans" font-size="49.2" fill="#000" >C<tspan font-family="Liberation Serif">π</tspan></text>
<text transform="translate(1035.5,319) scale(0.976,1)" font-family="Liberation Sans" font-size="45.5" fill="rgb(255,0,0)" >C-C</text>
<text transform="translate(1107.1000000000001,748.3) scale(0.976,1)" font-family="Liberation Sans" font-size="45.5" fill="rgb(28,187,120)" >Cdefects</text>
<text transform="translate(599.3000000000001,703) scale(0.976,1)" font-family="Liberation Sans" font-size="45.5" fill="rgb(255,0,128)" >C-S</text>
<text transform="translate(712.5,603.2) scale(0.976,1)" font-family="Liberation Sans" font-size="45.5" fill="rgb(0,0,255)" >C-O</text>
<text transform="translate(462.09999999999997,760.5) scale(0.976,1)" font-family="Liberation Sans" font-size="45.5" fill="rgb(255,128,0)" >C=O</text>
<text transform="translate(356.5,797) scale(0.976,1)" font-family="Liberation Sans" font-size="45.5" fill="rgb(85,195,230)" >C<tspan font-family="Liberation Serif">π</tspan></text>
<line x1="947.1" y1="383" x2="1002.7" y2="342.1" stroke="rgb(255,0,0)" stroke-width="1.4"/>
<polygon points="1021.2,328.5 1006.1,346.8 999.2,337.5" fill="rgb(255,0,0)"/>
<line x1="921.7" y1="813.2" x2="1089.2" y2="745.2" stroke="rgb(28,187,120)" stroke-width="1.4"/>
<polygon points="1110.5,736.6 1091.4,750.6 1087.0,739.9" fill="rgb(28,187,120)"/>
<line x1="734" y1="790.6" x2="687.1" y2="741.4" stroke="rgb(255,0,128)" stroke-width="1.4"/>
<polygon points="671.2,724.8 691.3,737.4 682.9,745.4" fill="rgb(255,0,128)"/>
<line x1="835" y1="786.6" x2="781.2" y2="645.7" stroke="rgb(0,0,255)" stroke-width="1.4"/>
<polygon points="773,624.2 786.6,643.6 775.8,647.8" fill="rgb(0,0,255)"/>
<line x1="618.5" y1="836.4" x2="577.8" y2="793.3" stroke="rgb(255,128,0)" stroke-width="1.4"/>
<polygon points="562,776.6 582.0,789.3 573.6,797.3" fill="rgb(255,128,0)"/>
<line x1="468.4" y1="852.4" x2="422.5" y2="813.5" stroke="rgb(85,195,230)" stroke-width="1.4"/>
<polygon points="405,798.6 426.3,809.1 418.8,817.9" fill="rgb(85,195,230)"/>
</svg></body></html>
